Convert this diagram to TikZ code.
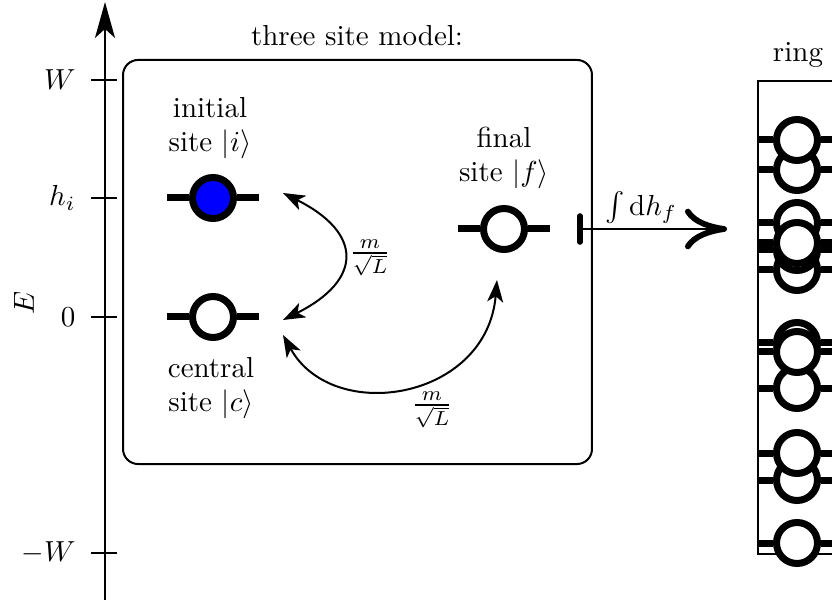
\documentclass[tikz,border=0pt]{standalone}
\usetikzlibrary{arrows.meta}
\begin{document}
\begin{tikzpicture}[x=0.345pt,y=-0.345pt,
  site/.style={circle,draw,line width=2.415pt,minimum size=14.15pt,inner sep=0pt,fill=white},
  stub/.style={line width=2.415pt},
  axisline/.style={line width=0.69pt},
  box/.style={draw,line width=0.69pt,rounded corners=5.2pt,inner sep=0pt},
  hop/.style={line width=0.69pt,arrows={Stealth[length=7.6pt,width=5.5pt,inset=2pt]-Stealth[length=7.6pt,width=5.5pt,inset=2pt]}},
  lbl/.style={align=center,inner sep=0pt}]
\useasboundingbox (0,0) rectangle (832,601);
% energy axis
\coordinate (axbot) at (105,600);
\coordinate (axtop) at (105,2);
\draw[axisline,arrows={-Stealth[length=12.4pt,width=6.9pt,inset=3.1pt]}] (axbot) -- (axtop);
\foreach \y/\t/\n in {80/$W$/tw,198/$h_i$/th,317/$0$/tz,553/$-W$/tm}{
  \coordinate (\n) at (105,\y);
  \draw[axisline] ([shift={(-14,0)}]\n) -- ([shift={(12,0)}]\n);
  \node[anchor=east,inner sep=0pt] (l\n) at ([shift={(-29,0)}]\n) {\t};
}
\node[rotate=90] (elabel) at (24,303) {$E$};
% three site model box
\node[box,minimum width=161.8pt,minimum height=139.4pt] (tsm) at (357.5,262) {};
\node (title) at (357,36) {three site model:};
% sites
\node[site,fill=blue] (si) at (213,198) {};
\node[site] (sc) at (213,317) {};
\node[site] (sf) at (504,229) {};
\foreach \s in {si,sc,sf}{
  \draw[stub] (\s.west) -- ++(-21.5,0);
  \draw[stub] (\s.east) -- ++(21.5,0);
}
\node[lbl] (li) at (210,128) {initial\\site $|i\rangle$};
\node[lbl] (lc) at (211,388) {central\\site $|c\rangle$};
\node[lbl] (lf) at (504,158) {final\\site $|f\rangle$};
% hoppings
\draw[hop] ([shift={(70,-5)}]si.center) .. controls +(80,40) and +(80,-40) .. ([shift={(70,3)}]sc.center);
\node[inner sep=0pt] (m1) at (370,258) {$\frac{m}{\sqrt{L}}$};
\draw[hop] ([shift={(70,18)}]sc.center) .. controls +(50,90) and +(-10,120) .. ([shift={(-7,51)}]sf.center);
\node[inner sep=0pt] (m2) at (432,410) {$\frac{m}{\sqrt{L}}$};
% integration arrow
\coordinate (ibar) at ([shift={(73,0)}]sf.center);
\coordinate (itip) at (727,229);
\draw[line width=0.69pt,arrows={Bar[width=9pt,line width=1.9pt,round]-Computer Modern Rightarrow[length=14.5pt,width=14pt,line width=2pt]}] (ibar) -- (itip);
\node (intl) at (641,208) {$\int \mathrm{d}h_f$};
% ring
\begin{scope}
\clip (0,0) rectangle (832,601);
\node[draw,line width=0.69pt,minimum width=69pt,minimum height=163.2pt,anchor=north west,inner sep=0pt] (ringbox) at (757,80) {};
\node (ringl) at (798,55) {ring};
\foreach \y [count=\k] in {170,140,223,270,250,243,388,343,352,480,453,543}{
  \node[site] (r\k) at (797,\y) {};
  \draw[stub] (r\k.west) -- (ringbox.west |- r\k);
  \draw[stub] (r\k.east) -- ++(40,0);
}
\end{scope}
\end{tikzpicture}
\end{document}
